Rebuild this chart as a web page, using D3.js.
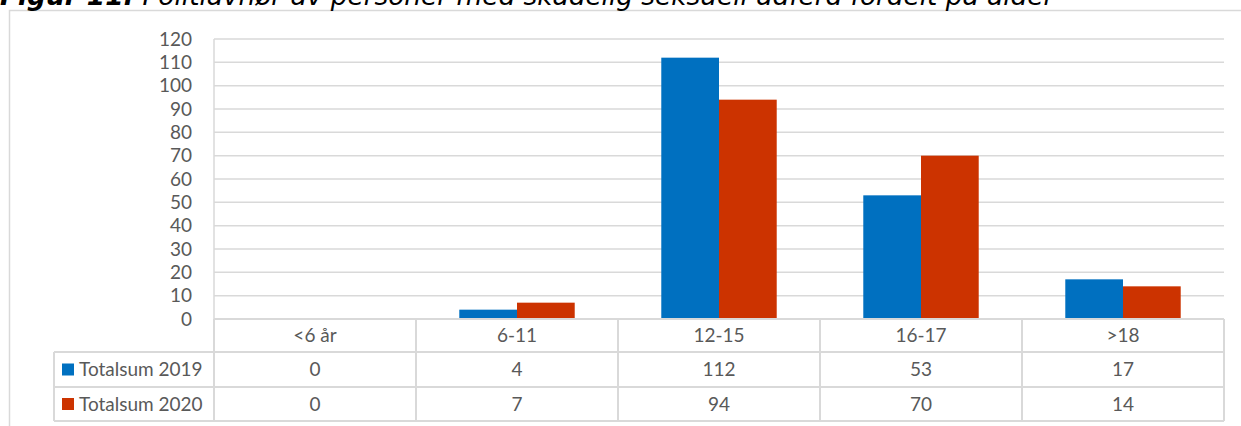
<!DOCTYPE html>
<html>
<head>
<meta charset="utf-8">
<script src="https://cdn.jsdelivr.net/npm/d3@7"></script>
<style>
  html, body { margin: 0; padding: 0; background: #fff; }
  svg { display: block; }
</style>
</head>
<body>
<svg id="chart" width="1241" height="426"></svg>
<script>
const categories = ["<6 år", "6-11", "12-15", "16-17", ">18"];
const seriesNames = ["Totalsum 2019", "Totalsum 2020"];
const values2019 = [0, 4, 112, 53, 17];
const values2020 = [0, 7, 94, 70, 14];
const yTicks = [0, 10, 20, 30, 40, 50, 60, 70, 80, 90, 100, 110, 120];
const colors = ["#0070C0", "#CC3300"];
const titleBold = "Figur 11:";
const titleRest = " Politiavhør av personer med skadelig seksuell adferd fordelt på alder";

const series = [values2019, values2020];
const svg = d3.select("#chart");
const W = 1241, H = 426;
const plot = { left: 214, right: 1224, top: 39, bottom: 319 };
const rowH = [319, 352, 387, 421];
const legendLeft = 54;
const textColor = "#595959";
const lineColor = "#d9d9d9";
const font = "Lato, 'Open Sans', sans-serif";

// outer frame
svg.append("rect").attr("x", 9.5).attr("y", 10.5).attr("width", W).attr("height", H)
  .attr("fill", "none").attr("stroke", lineColor).attr("stroke-width", 1.5);

// title
const title = svg.append("text").attr("x", 0).attr("y", 5)
  .attr("font-family", "'DejaVu Sans', Verdana, sans-serif")
  .attr("font-style", "italic").attr("font-size", 20).attr("fill", "#000");
title.append("tspan").attr("font-weight", "bold").text(titleBold);
title.append("tspan").text(titleRest);
const tl = title.node().getComputedTextLength();
title.attr("font-size", 20 * 1055 / tl);

const x = d3.scaleBand().domain(categories).range([plot.left, plot.right]).paddingInner(0).paddingOuter(0);
const y = d3.scaleLinear().domain([0, 120]).range([plot.bottom, plot.top]);
const groupW = x.bandwidth() * (2 / 3.5);
const x1 = d3.scaleBand().domain(seriesNames).range([0, groupW]);

// gridlines
svg.append("g").selectAll("line").data(yTicks.filter(d => d > 0)).join("line")
  .attr("x1", plot.left).attr("x2", plot.right)
  .attr("y1", d => y(d)).attr("y2", d => y(d))
  .attr("stroke", lineColor).attr("stroke-width", 1.5);

// y axis line
svg.append("line").attr("x1", plot.left).attr("x2", plot.left)
  .attr("y1", y(120)).attr("y2", plot.bottom)
  .attr("stroke", lineColor).attr("stroke-width", 1.5);

// y tick labels
const yAxis = d3.axisLeft(y).tickValues(yTicks).tickSize(0).tickPadding(0);
const ya = svg.append("g").attr("transform", `translate(${192},0)`).call(yAxis);
ya.select(".domain").remove();
ya.selectAll("text").attr("font-family", font).attr("font-size", 19).attr("fill", textColor);

// bars
seriesNames.forEach((name, si) => {
  svg.append("g").selectAll("rect").data(series[si]).join("rect")
    .attr("x", (d, i) => x(categories[i]) + (x.bandwidth() - groupW) / 2 + x1(name))
    .attr("y", d => y(d))
    .attr("width", x1.bandwidth())
    .attr("height", d => y(0) - y(d))
    .attr("fill", colors[si]);
});

// data table
const tg = svg.append("g").attr("stroke", lineColor).attr("stroke-width", 2).attr("fill", "none");
tg.append("line").attr("x1", plot.left).attr("x2", plot.right).attr("y1", rowH[0]).attr("y2", rowH[0]);
[1, 2, 3].forEach(r => tg.append("line").attr("x1", legendLeft).attr("x2", plot.right).attr("y1", rowH[r]).attr("y2", rowH[r]));
const bounds = categories.map(c => x(c)).concat([plot.right]);
bounds.forEach(bx => tg.append("line").attr("x1", bx).attr("x2", bx).attr("y1", rowH[0]).attr("y2", rowH[3]));
tg.append("line").attr("x1", legendLeft).attr("x2", legendLeft).attr("y1", rowH[1]).attr("y2", rowH[3]);

const cellText = (xc, yc, txt, anchor) => svg.append("text")
  .attr("x", xc).attr("y", yc).attr("dy", "0.35em")
  .attr("text-anchor", anchor || "middle")
  .attr("font-family", font).attr("font-size", 19).attr("fill", textColor).text(txt);

categories.forEach((c, i) => {
  const cx = x(c) + x.bandwidth() / 2;
  cellText(cx, (rowH[0] + rowH[1]) / 2, c);
  cellText(cx, (rowH[1] + rowH[2]) / 2, values2019[i]);
  cellText(cx, (rowH[2] + rowH[3]) / 2, values2020[i]);
});

seriesNames.forEach((name, si) => {
  const yc = (rowH[si + 1] + rowH[si + 2]) / 2;
  svg.append("rect").attr("x", 62).attr("y", yc - 6).attr("width", 12).attr("height", 12).attr("fill", colors[si]);
  cellText(79, yc, name, "start");
});
</script>
</body>
</html>
